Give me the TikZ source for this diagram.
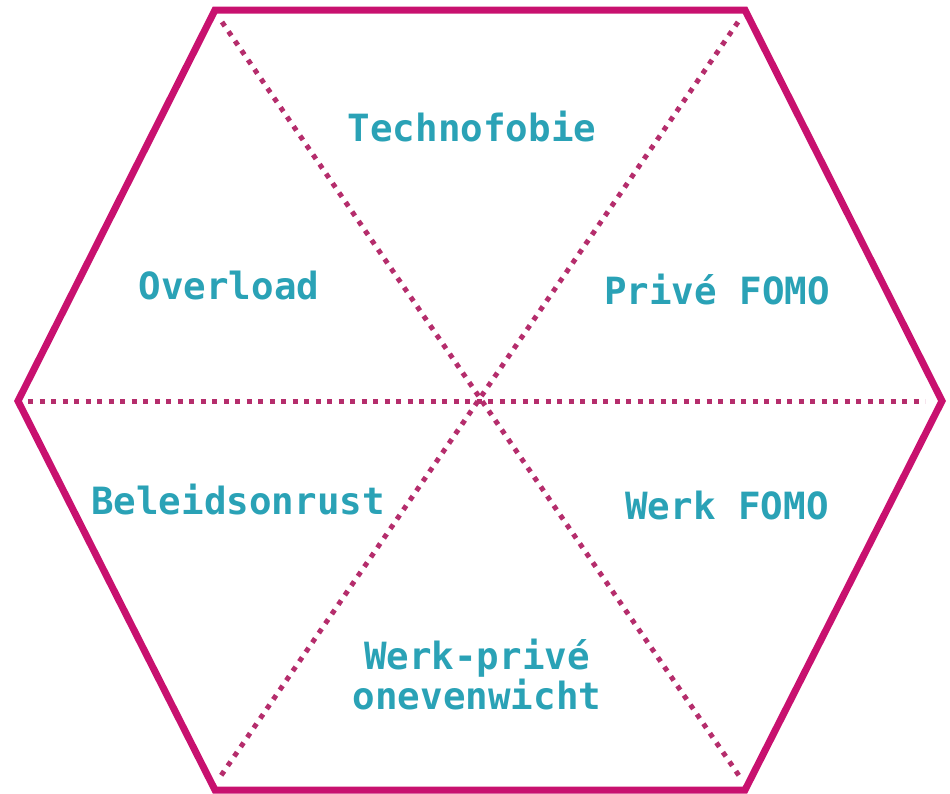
\documentclass[tikz,border=0pt]{standalone}
\usepackage{fontspec}
\setmonofont{DejaVu Sans Mono}
\begin{document}
\definecolor{rim}{HTML}{C8116F}
\definecolor{spoke}{HTML}{B52D6C}
\definecolor{label}{HTML}{2AA2B6}
\begin{tikzpicture}[x=1pt,y=-1pt,
  rimline/.style={draw=rim,line width=7pt,line join=miter},
  spokeline/.style={draw=spoke,line width=5pt,dash pattern=on 5pt off 6.5pt},
  tag/.style={text=label,font=\ttfamily\bfseries\fontsize{37.5}{40}\selectfont,align=center,inner sep=0pt}]
\useasboundingbox (0,0) rectangle (950,793);
% corners of the hexagon
\coordinate (A) at (215,10);
\coordinate (B) at (745,10);
\coordinate (C) at (942,401);
\coordinate (D) at (745,790);
\coordinate (E) at (215,790);
\coordinate (F) at (18,401);
% dotted diagonals
\coordinate (a1) at (222,22);
\coordinate (d1) at (742,780);
\coordinate (b1) at (738,22);
\coordinate (e1) at (218,780);
\coordinate (f1) at (28,401);
\coordinate (c1) at (925,401);
\draw[spokeline] (a1) -- (d1);
\draw[spokeline] (b1) -- (e1);
\draw[spokeline] (f1) -- (c1);
% outline
\draw[rimline] (A) -- (B) -- (C) -- (D) -- (E) -- (F) -- cycle;
% sector labels
\node[tag] (t1) at (472,127) {Technofobie};
\node[tag] (t2) at (229,286) {Overload};
\node[tag] (t3) at (717,290) {Privé FOMO};
\node[tag] (t4) at (238,500) {Beleidsonrust};
\node[tag] (t5) at (727,506) {Werk FOMO};
\node[tag] (t6) at (477,675) {Werk-privé\\onevenwicht};
\end{tikzpicture}
\end{document}
